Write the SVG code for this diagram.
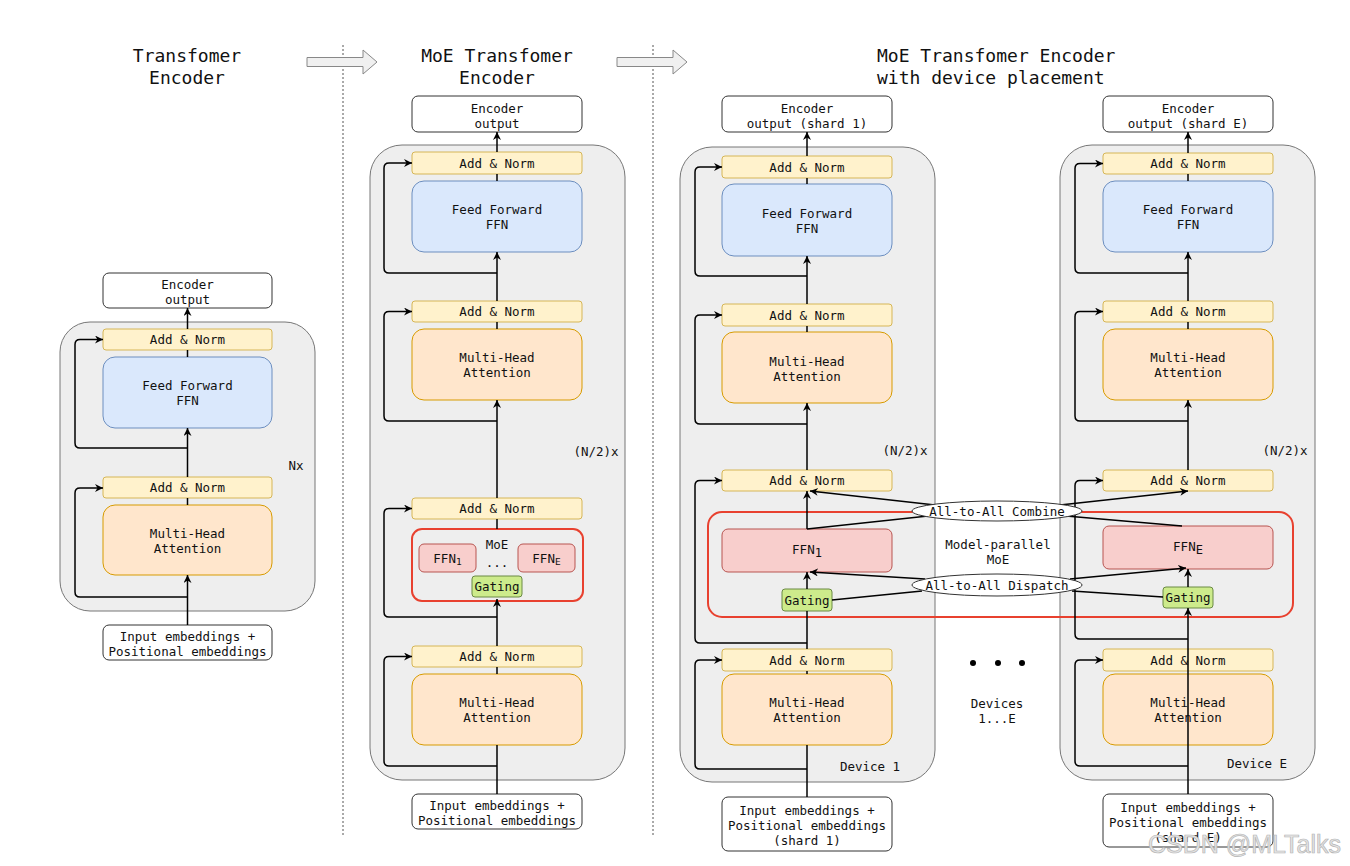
<svg xmlns="http://www.w3.org/2000/svg" width="1350" height="866" viewBox="0 0 1350 866">
<style>
text{font-family:"DejaVu Sans Mono","Liberation Mono",monospace;font-size:12.5px;fill:#111}
.t{text-anchor:middle;dominant-baseline:central}
.ttl{font-size:18px}
.an{fill:#fff2cc;stroke:#d6b656}
.ff{fill:#dae8fc;stroke:#6c8ebf}
.mh{fill:#ffe6cc;stroke:#d79b00}
.ex{fill:#f8cecc;stroke:#b85450}
.gt{fill:#cdeb8b;stroke:#6a8a45}
.wb{fill:#fff;stroke:#333}
.ct{fill:#eeeeee;stroke:#777}
.moe{fill:none;stroke:#e8412f;stroke-width:2}
.c{fill:none;stroke:#000;stroke-width:1.5}
.ca{fill:none;stroke:#000;stroke-width:1.5;marker-end:url(#ah)}
.hollow{fill:#f0f0f0;stroke:#888;stroke-width:1}
.div{stroke:#555;stroke-width:1;stroke-dasharray:2 2}
</style>
<defs>
<marker id="ah" markerWidth="10" markerHeight="10" refX="8" refY="4" orient="auto" markerUnits="userSpaceOnUse">
<path d="M0,0 L8,4 L0,8 L2.5,4 Z" fill="#000"/>
</marker>
</defs>
<rect width="1350" height="866" fill="#fff"/>

<g id="titles">
<text class="t ttl" x="187" y="55">Transfomer</text>
<text class="t ttl" x="187" y="77">Encoder</text>
<text class="t ttl" x="497" y="55">MoE Transfomer</text>
<text class="t ttl" x="497" y="77">Encoder</text>
<text class="ttl" x="877" y="55" dominant-baseline="central">MoE Transfomer Encoder</text>
<text class="ttl" x="877" y="77" dominant-baseline="central">with device placement</text>
</g>
<g id="dividers">
<line class="div" x1="343" y1="45" x2="343" y2="836"/>
<line class="div" x1="653" y1="45" x2="653" y2="836"/>
<polygon class="hollow" points="307,57.5 363,57.5 363,50 377,62 363,74 363,66.5 307,66.5"/>
<polygon class="hollow" points="617,57.5 673,57.5 673,50 687,62 673,74 673,66.5 617,66.5"/>
</g>

<g id="container-left"><rect class="ct" x="60" y="322" width="255" height="289" rx="30"/><text class="t" x="296" y="465">Nx</text></g>
<g id="container-mid"><rect class="ct" x="370" y="145" width="255" height="635" rx="32"/><text class="t" x="596" y="451">(N/2)x</text></g>
<g id="container-dev1"><rect class="ct" x="680" y="147" width="255" height="635" rx="32"/><text class="t" x="905" y="450">(N/2)x</text><text class="t" x="870" y="766">Device 1</text></g>
<g id="container-devE"><rect class="ct" x="1060" y="145" width="255" height="635" rx="32"/><text class="t" x="1285" y="450">(N/2)x</text><text class="t" x="1257" y="763">Device E</text></g>

<g id="l-out"><rect class="wb" x="103" y="273" width="169" height="35" rx="6"/><text class="t" x="187.5" y="284">Encoder</text><text class="t" x="187.5" y="299">output</text></g>
<g id="l-an1"><rect class="an" x="103" y="329" width="169" height="21" rx="3"/><text class="t" x="187.5" y="339.5">Add &amp; Norm</text></g>
<g id="l-ffn"><rect class="ff" x="103" y="357" width="169" height="71" rx="12"/><text class="t" x="187.5" y="385">Feed Forward</text><text class="t" x="187.5" y="400">FFN</text></g>
<g id="l-an2"><rect class="an" x="103" y="477" width="169" height="21" rx="3"/><text class="t" x="187.5" y="487.5">Add &amp; Norm</text></g>
<g id="l-mha"><rect class="mh" x="103" y="505" width="169" height="70" rx="12"/><text class="t" x="187.5" y="533">Multi-Head</text><text class="t" x="187.5" y="548">Attention</text></g>
<g id="l-in"><rect class="wb" x="103" y="625" width="169" height="35" rx="6"/><text class="t" x="187.5" y="636">Input embeddings +</text><text class="t" x="187.5" y="651">Positional embeddings</text></g>

<g id="m-out"><rect class="wb" x="412" y="96" width="170" height="36" rx="6"/><text class="t" x="497" y="108">Encoder</text><text class="t" x="497" y="123">output</text></g>
<g id="m-an1"><rect class="an" x="412" y="152" width="170" height="22" rx="3"/><text class="t" x="497" y="163">Add &amp; Norm</text></g>
<g id="m-ffn"><rect class="ff" x="412" y="181" width="170" height="71" rx="12"/><text class="t" x="497" y="209">Feed Forward</text><text class="t" x="497" y="224">FFN</text></g>
<g id="m-an2"><rect class="an" x="412" y="301" width="170" height="21" rx="3"/><text class="t" x="497" y="311.5">Add &amp; Norm</text></g>
<g id="m-mha"><rect class="mh" x="412" y="329" width="170" height="71" rx="12"/><text class="t" x="497" y="357">Multi-Head</text><text class="t" x="497" y="372">Attention</text></g>
<g id="m-an3"><rect class="an" x="412" y="498" width="170" height="21" rx="3"/><text class="t" x="497" y="508.5">Add &amp; Norm</text></g>
<g id="m-moe"><rect class="moe" x="412" y="529" width="171" height="72" rx="10"/><text class="t" x="497" y="544">MoE</text><text class="t" x="497" y="562">...</text></g>
<g id="m-ffn1"><rect class="ex" x="419" y="544" width="57" height="28" rx="5"/><text class="t" x="447.5" y="558">FFN<tspan font-size="9.5" dy="3">1</tspan></text></g>
<g id="m-ffnE"><rect class="ex" x="518" y="544" width="57" height="28" rx="5"/><text class="t" x="546.5" y="558">FFN<tspan font-size="9.5" dy="3">E</tspan></text></g>
<g id="m-gate"><rect class="gt" x="472" y="576" width="50" height="21" rx="3"/><text class="t" x="497" y="586.5">Gating</text></g>
<g id="m-an4"><rect class="an" x="412" y="646" width="170" height="21" rx="3"/><text class="t" x="497" y="656.5">Add &amp; Norm</text></g>
<g id="m-mha2"><rect class="mh" x="412" y="674" width="170" height="71" rx="12"/><text class="t" x="497" y="702">Multi-Head</text><text class="t" x="497" y="717">Attention</text></g>
<g id="m-in"><rect class="wb" x="412" y="794" width="170" height="35" rx="6"/><text class="t" x="497" y="805.5">Input embeddings +</text><text class="t" x="497" y="820.5">Positional embeddings</text></g>

<g id="mp-moe"><rect class="moe" x="708" y="512" width="585" height="105" rx="14"/><text class="t" x="998" y="544">Model-parallel</text><text class="t" x="998" y="559">MoE</text></g>

<g id="d1-out"><rect class="wb" x="722" y="96" width="170" height="36" rx="6"/><text class="t" x="807" y="108">Encoder</text><text class="t" x="807" y="123">output (shard 1)</text></g>
<g id="d1-an1"><rect class="an" x="722" y="156" width="170" height="22" rx="3"/><text class="t" x="807" y="167">Add &amp; Norm</text></g>
<g id="d1-ffn"><rect class="ff" x="722" y="184" width="170" height="72" rx="12"/><text class="t" x="807" y="213">Feed Forward</text><text class="t" x="807" y="228">FFN</text></g>
<g id="d1-an2"><rect class="an" x="722" y="304" width="170" height="22" rx="3"/><text class="t" x="807" y="315">Add &amp; Norm</text></g>
<g id="d1-mha"><rect class="mh" x="722" y="332" width="170" height="71" rx="12"/><text class="t" x="807" y="361">Multi-Head</text><text class="t" x="807" y="376">Attention</text></g>
<g id="d1-an3"><rect class="an" x="722" y="470" width="170" height="21" rx="3"/><text class="t" x="807" y="480.5">Add &amp; Norm</text></g>
<g id="d1-ffn1"><rect class="ex" x="722" y="529" width="170" height="43" rx="6"/><text class="t" x="807" y="549">FFN<tspan font-size="12" dy="4">1</tspan></text></g>
<g id="d1-gate"><rect class="gt" x="782" y="589" width="50" height="22" rx="3"/><text class="t" x="807" y="600">Gating</text></g>
<g id="d1-an4"><rect class="an" x="722" y="649" width="170" height="22" rx="3"/><text class="t" x="807" y="660">Add &amp; Norm</text></g>
<g id="d1-mha2"><rect class="mh" x="722" y="674" width="170" height="71" rx="12"/><text class="t" x="807" y="702">Multi-Head</text><text class="t" x="807" y="717">Attention</text></g>
<g id="d1-in"><rect class="wb" x="722" y="797" width="170" height="54" rx="6"/><text class="t" x="807" y="810">Input embeddings +</text><text class="t" x="807" y="825">Positional embeddings</text><text class="t" x="807" y="840">(shard 1)</text></g>

<g id="dE-out"><rect class="wb" x="1103" y="96" width="170" height="36" rx="6"/><text class="t" x="1188" y="108">Encoder</text><text class="t" x="1188" y="123">output (shard E)</text></g>
<g id="dE-an1"><rect class="an" x="1103" y="153" width="170" height="21" rx="3"/><text class="t" x="1188" y="163.5">Add &amp; Norm</text></g>
<g id="dE-ffn"><rect class="ff" x="1103" y="181" width="170" height="71" rx="12"/><text class="t" x="1188" y="209">Feed Forward</text><text class="t" x="1188" y="224">FFN</text></g>
<g id="dE-an2"><rect class="an" x="1103" y="301" width="170" height="21" rx="3"/><text class="t" x="1188" y="311.5">Add &amp; Norm</text></g>
<g id="dE-mha"><rect class="mh" x="1103" y="329" width="170" height="71" rx="12"/><text class="t" x="1188" y="357">Multi-Head</text><text class="t" x="1188" y="372">Attention</text></g>
<g id="dE-an3"><rect class="an" x="1103" y="470" width="170" height="21" rx="3"/><text class="t" x="1188" y="480.5">Add &amp; Norm</text></g>
<g id="dE-ffnE"><rect class="ex" x="1103" y="526" width="170" height="43" rx="6"/><text class="t" x="1188" y="546">FFN<tspan font-size="12" dy="4">E</tspan></text></g>
<g id="dE-gate"><rect class="gt" x="1163" y="587" width="50" height="21" rx="3"/><text class="t" x="1188" y="597.5">Gating</text></g>
<g id="dE-an4"><rect class="an" x="1103" y="649" width="170" height="22" rx="3"/><text class="t" x="1188" y="660">Add &amp; Norm</text></g>
<g id="dE-mha2"><rect class="mh" x="1103" y="674" width="170" height="71" rx="12"/><text class="t" x="1188" y="702">Multi-Head</text><text class="t" x="1188" y="717">Attention</text></g>
<g id="dE-in"><rect class="wb" x="1103" y="794" width="170" height="53" rx="6"/><text class="t" x="1188" y="807">Input embeddings +</text><text class="t" x="1188" y="822">Positional embeddings</text><text class="t" x="1188" y="837">(shard E)</text></g>

<g id="devices-dots">
<circle cx="973" cy="663" r="3" fill="#000"/><circle cx="998" cy="663" r="3" fill="#000"/><circle cx="1022" cy="663" r="3" fill="#000"/>
<text class="t" x="997" y="703">Devices</text><text class="t" x="997" y="718">1...E</text>
</g>

<g id="connectors">
<path class="ca" d="M187.5 625 V575"/>
<path class="ca" d="M187.5 597 H80 Q75 597 75 592 V493 Q75 488 80 488 H103"/>
<path class="c" d="M187.5 505 V498"/>
<path class="ca" d="M187.5 477 V428"/>
<path class="ca" d="M187.5 448 H80 Q75 448 75 443 V344.5 Q75 339.5 80 339.5 H103"/>
<path class="c" d="M187.5 357 V350"/>
<path class="ca" d="M187.5 329 V308"/>
<path class="c" d="M497 794 V745"/>
<path class="ca" d="M497 766 H389 Q384 766 384 761 V661.5 Q384 656.5 389 656.5 H412"/>
<path class="c" d="M497 674 V667"/>
<path class="ca" d="M497 646 V599"/>
<path class="ca" d="M497 617 H389 Q384 617 384 612 V513.5 Q384 508.5 389 508.5 H412"/>
<path class="c" d="M497 529 V519"/>
<path class="ca" d="M497 498 V400"/>
<path class="ca" d="M497 421 H389 Q384 421 384 416 V316.5 Q384 311.5 389 311.5 H412"/>
<path class="c" d="M497 329 V322"/>
<path class="ca" d="M497 301 V252"/>
<path class="ca" d="M497 273 H389 Q384 273 384 268 V168 Q384 163 389 163 H412"/>
<path class="c" d="M497 181 V174"/>
<path class="ca" d="M497 152 V132"/>
<path class="c" d="M807 797 V745"/>
<path class="ca" d="M807 769 H700 Q695 769 695 764 V665 Q695 660 700 660 H722"/>
<path class="c" d="M807 674 V671"/>
<path class="c" d="M807 649 V611"/>
<path class="ca" d="M807 643 H700 Q695 643 695 638 V485.5 Q695 480.5 700 480.5 H722"/>
<path class="ca" d="M807 589 V572"/>
<path class="ca" d="M807 529 V491"/>
<path class="ca" d="M807 470 V403"/>
<path class="ca" d="M807 424 H700 Q695 424 695 419 V320 Q695 315 700 315 H722"/>
<path class="c" d="M807 332 V326"/>
<path class="ca" d="M807 304 V256"/>
<path class="ca" d="M807 276 H700 Q695 276 695 271 V172 Q695 167 700 167 H722"/>
<path class="c" d="M807 184 V178"/>
<path class="ca" d="M807 156 V132"/>
<path class="ca" d="M1188 794 V608"/>
<path class="ca" d="M1188 766 H1080 Q1075 766 1075 761 V665 Q1075 660 1080 660 H1103"/>
<path class="ca" d="M1188 639 H1080 Q1075 639 1075 634 V485.5 Q1075 480.5 1080 480.5 H1103"/>
<path class="ca" d="M1188 587 V569"/>
<path class="ca" d="M1188 470 V400"/>
<path class="ca" d="M1188 421 H1080 Q1075 421 1075 416 V316.5 Q1075 311.5 1080 311.5 H1103"/>
<path class="c" d="M1188 329 V322"/>
<path class="ca" d="M1188 301 V252"/>
<path class="ca" d="M1188 273 H1080 Q1075 273 1075 268 V168.5 Q1075 163.5 1080 163.5 H1103"/>
<path class="c" d="M1188 181 V174"/>
<path class="ca" d="M1188 153 V132"/>
<path class="c" d="M807 529 L928 516"/>
<path class="ca" d="M935 505 L810 491"/>
<path class="ca" d="M1060 505 L1188 491"/>
<path class="c" d="M1066 516 L1182 526"/>
<path class="c" d="M832 600 L922 591"/>
<path class="ca" d="M925 579 L810 572"/>
<path class="ca" d="M1070 579 L1186 568"/>
<path class="c" d="M1072 591 L1163 597"/>
</g>

<g id="combine"><ellipse cx="997" cy="511" rx="85" ry="10" fill="#fff" stroke="#333"/><text class="t" x="997" y="511">All-to-All Combine</text></g>
<g id="dispatch"><ellipse cx="997" cy="585" rx="85" ry="11" fill="#fff" stroke="#333"/><text class="t" x="997" y="585">All-to-All Dispatch</text></g>

<g id="watermark"><text x="1148" y="853" style="font-family:'Liberation Sans',Arial,sans-serif;font-size:25px;fill:#e4e4e4;stroke:#b5b5b5;stroke-width:0.7">CSDN @MLTalks</text></g>
</svg>
